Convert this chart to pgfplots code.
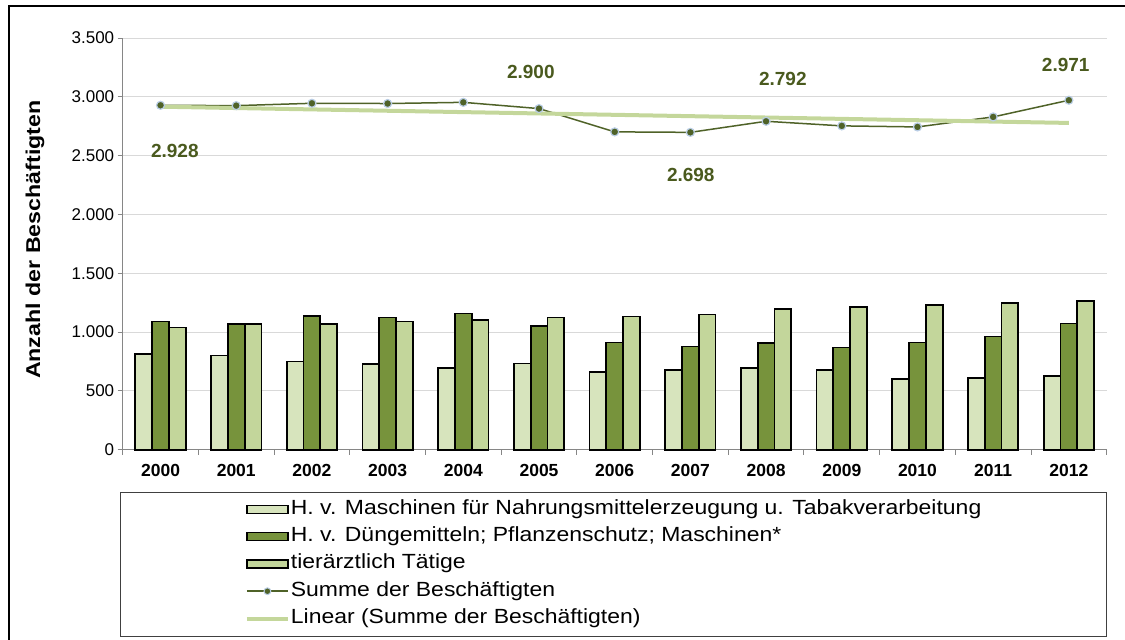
\documentclass[border=0pt]{standalone}
\usepackage{fontspec}
\setmainfont{Liberation Sans}
\usepackage{graphicx}
\usepackage{pgfplots}
\usepackage{pgfplotstable}
\pgfplotsset{compat=1.18}
\definecolor{barA}{HTML}{D7E4BD}
\definecolor{barB}{HTML}{77933C}
\definecolor{barC}{HTML}{C3D69B}
\definecolor{sumline}{HTML}{4F6228}
\definecolor{halo}{HTML}{B9CDE5}
\definecolor{trend}{HTML}{C4D79B}
\definecolor{lbl}{HTML}{4A5A1E}
\definecolor{gridc}{HTML}{D9D9D9}
\definecolor{axisc}{HTML}{868686}
\newcommand{\legtxt}[1]{\scalebox{1.12}[1]{#1}}

\pgfplotstableread{
x a b c s
0 812 1090 1039 2928
1 801 1068 1068 2925
2 750 1136 1068 2945
3 727 1124 1090 2943
4 698 1158 1102 2953
5 733 1051 1124 2900
6 664 911 1133 2702
7 676 877 1150 2698
8 698 906 1193 2792
9 676 869 1210 2753
10 600 911 1233 2744
11 613 963 1250 2829
12 630 1073 1267 2971
}\datatable

\begin{document}
\begin{tikzpicture}
\useasboundingbox (0pt,0pt) rectangle (1125pt,-640pt);
\draw[line width=1.2pt] (9pt,-640pt) -- (9pt,-6pt) -- (1125pt,-6pt);
\begin{axis}[
  at={(122.7pt,-449.7pt)}, anchor=south west,
  scale only axis, width=984pt, height=411.7pt,
  xmin=-0.5, xmax=12.5, ymin=0, ymax=3500,
  xtick={-0.5,0.5,...,12.5}, xticklabels={},
  extra x ticks={0,1,...,12},
  extra x tick labels={2000,2001,2002,2003,2004,2005,2006,2007,2008,2009,2010,2011,2012},
  extra x tick style={major tick length=0pt, tick label style={font=\bfseries\fontsize{17.5}{20}\selectfont, yshift=-11pt}},
  ytick={0,500,...,3500},
  ymajorgrids, major grid style={gridc, line width=1pt},
  axis x line*=bottom, axis y line*=left,
  axis line style={axisc, line width=1pt, -},
  tick align=outside, major tick length=5pt,
  tick style={axisc, line width=1pt},
  yticklabel style={font=\fontsize{17}{20}\selectfont},
  /pgf/number format/1000 sep={.},
  /pgf/number format/assume math mode=true,
  ylabel={\scalebox{1.16}[1]{Anzahl der Beschäftigten}},
  ylabel style={font=\bfseries\fontsize{20}{24}\selectfont, at={(axis description cs:-0.089,0.51)}, anchor=center},
  clip=false,
  legend style={draw=none, fill=none, at={(axis description cs:0.124,-0.12)}, anchor=north west,
    font=\fontsize{20.5}{24}\selectfont, inner sep=0pt, row sep=7.3pt,
    nodes={inner sep=1pt, text height=14pt, text depth=4pt},
    /tikz/every odd column/.append style={column sep=0pt}},
  legend cell align=left,
]
\addplot[ybar, bar width=16.8pt, bar shift=-16.8pt, fill=barA, draw=black, line width=1.8pt,
  legend image code/.code={\draw[fill=barA, draw=black, line width=1.5pt] (0pt,-4pt) rectangle (41pt,4pt);}]
  table[x=x, y=a] {\datatable};
\addlegendentry{\legtxt{H. v. Maschinen für Nahrungsmittelerzeugung u. Tabakverarbeitung}}
\addplot[ybar, bar width=16.8pt, bar shift=0pt, fill=barB, draw=black, line width=1.8pt,
  legend image code/.code={\draw[fill=barB, draw=black, line width=1.5pt] (0pt,-4pt) rectangle (41pt,4pt);}]
  table[x=x, y=b] {\datatable};
\addlegendentry{\legtxt{H. v. Düngemitteln; Pflanzenschutz; Maschinen*}}
\addplot[ybar, bar width=16.8pt, bar shift=16.8pt, fill=barC, draw=black, line width=1.8pt,
  legend image code/.code={\draw[fill=barC, draw=black, line width=1.5pt] (0pt,-4pt) rectangle (41pt,4pt);}]
  table[x=x, y=c] {\datatable};
\addlegendentry{\legtxt{tierärztlich Tätige}}
\addplot[sumline, line width=1.5pt, mark=*, mark size=4pt,
  mark options={fill=sumline, draw=halo, line width=1.2pt},
  legend image code/.code={\draw[sumline, line width=1.5pt] (0pt,0pt) -- (41pt,0pt);
     \fill[sumline, draw=halo, line width=1pt] (20.5pt,0pt) circle (3.4pt);}]
  table[x=x, y=s] {\datatable};
\addlegendentry{\legtxt{Summe der Beschäftigten}}
\addplot[trend, line width=4pt,
  legend image code/.code={\draw[trend, line width=4pt] (0pt,0pt) -- (41pt,0pt);}]
  coordinates {(0,2916) (12,2778)};
\addlegendentry{\legtxt{Linear (Summe der Beschäftigten)}}
\begin{scope}[every node/.style={font=\bfseries\fontsize{19}{22}\selectfont, text=lbl, anchor=center}]
\node at (axis cs:0.189,2539) {2.928};
\node at (axis cs:4.892,3211) {2.900};
\node at (axis cs:7.005,2335) {2.698};
\node at (axis cs:8.221,3156) {2.792};
\node at (axis cs:11.959,3275) {2.971};
\end{scope}
\end{axis}
\draw[black!75, line width=1pt] (120.7pt,-492pt) rectangle (1106pt,-636pt);
\end{tikzpicture}
\end{document}
